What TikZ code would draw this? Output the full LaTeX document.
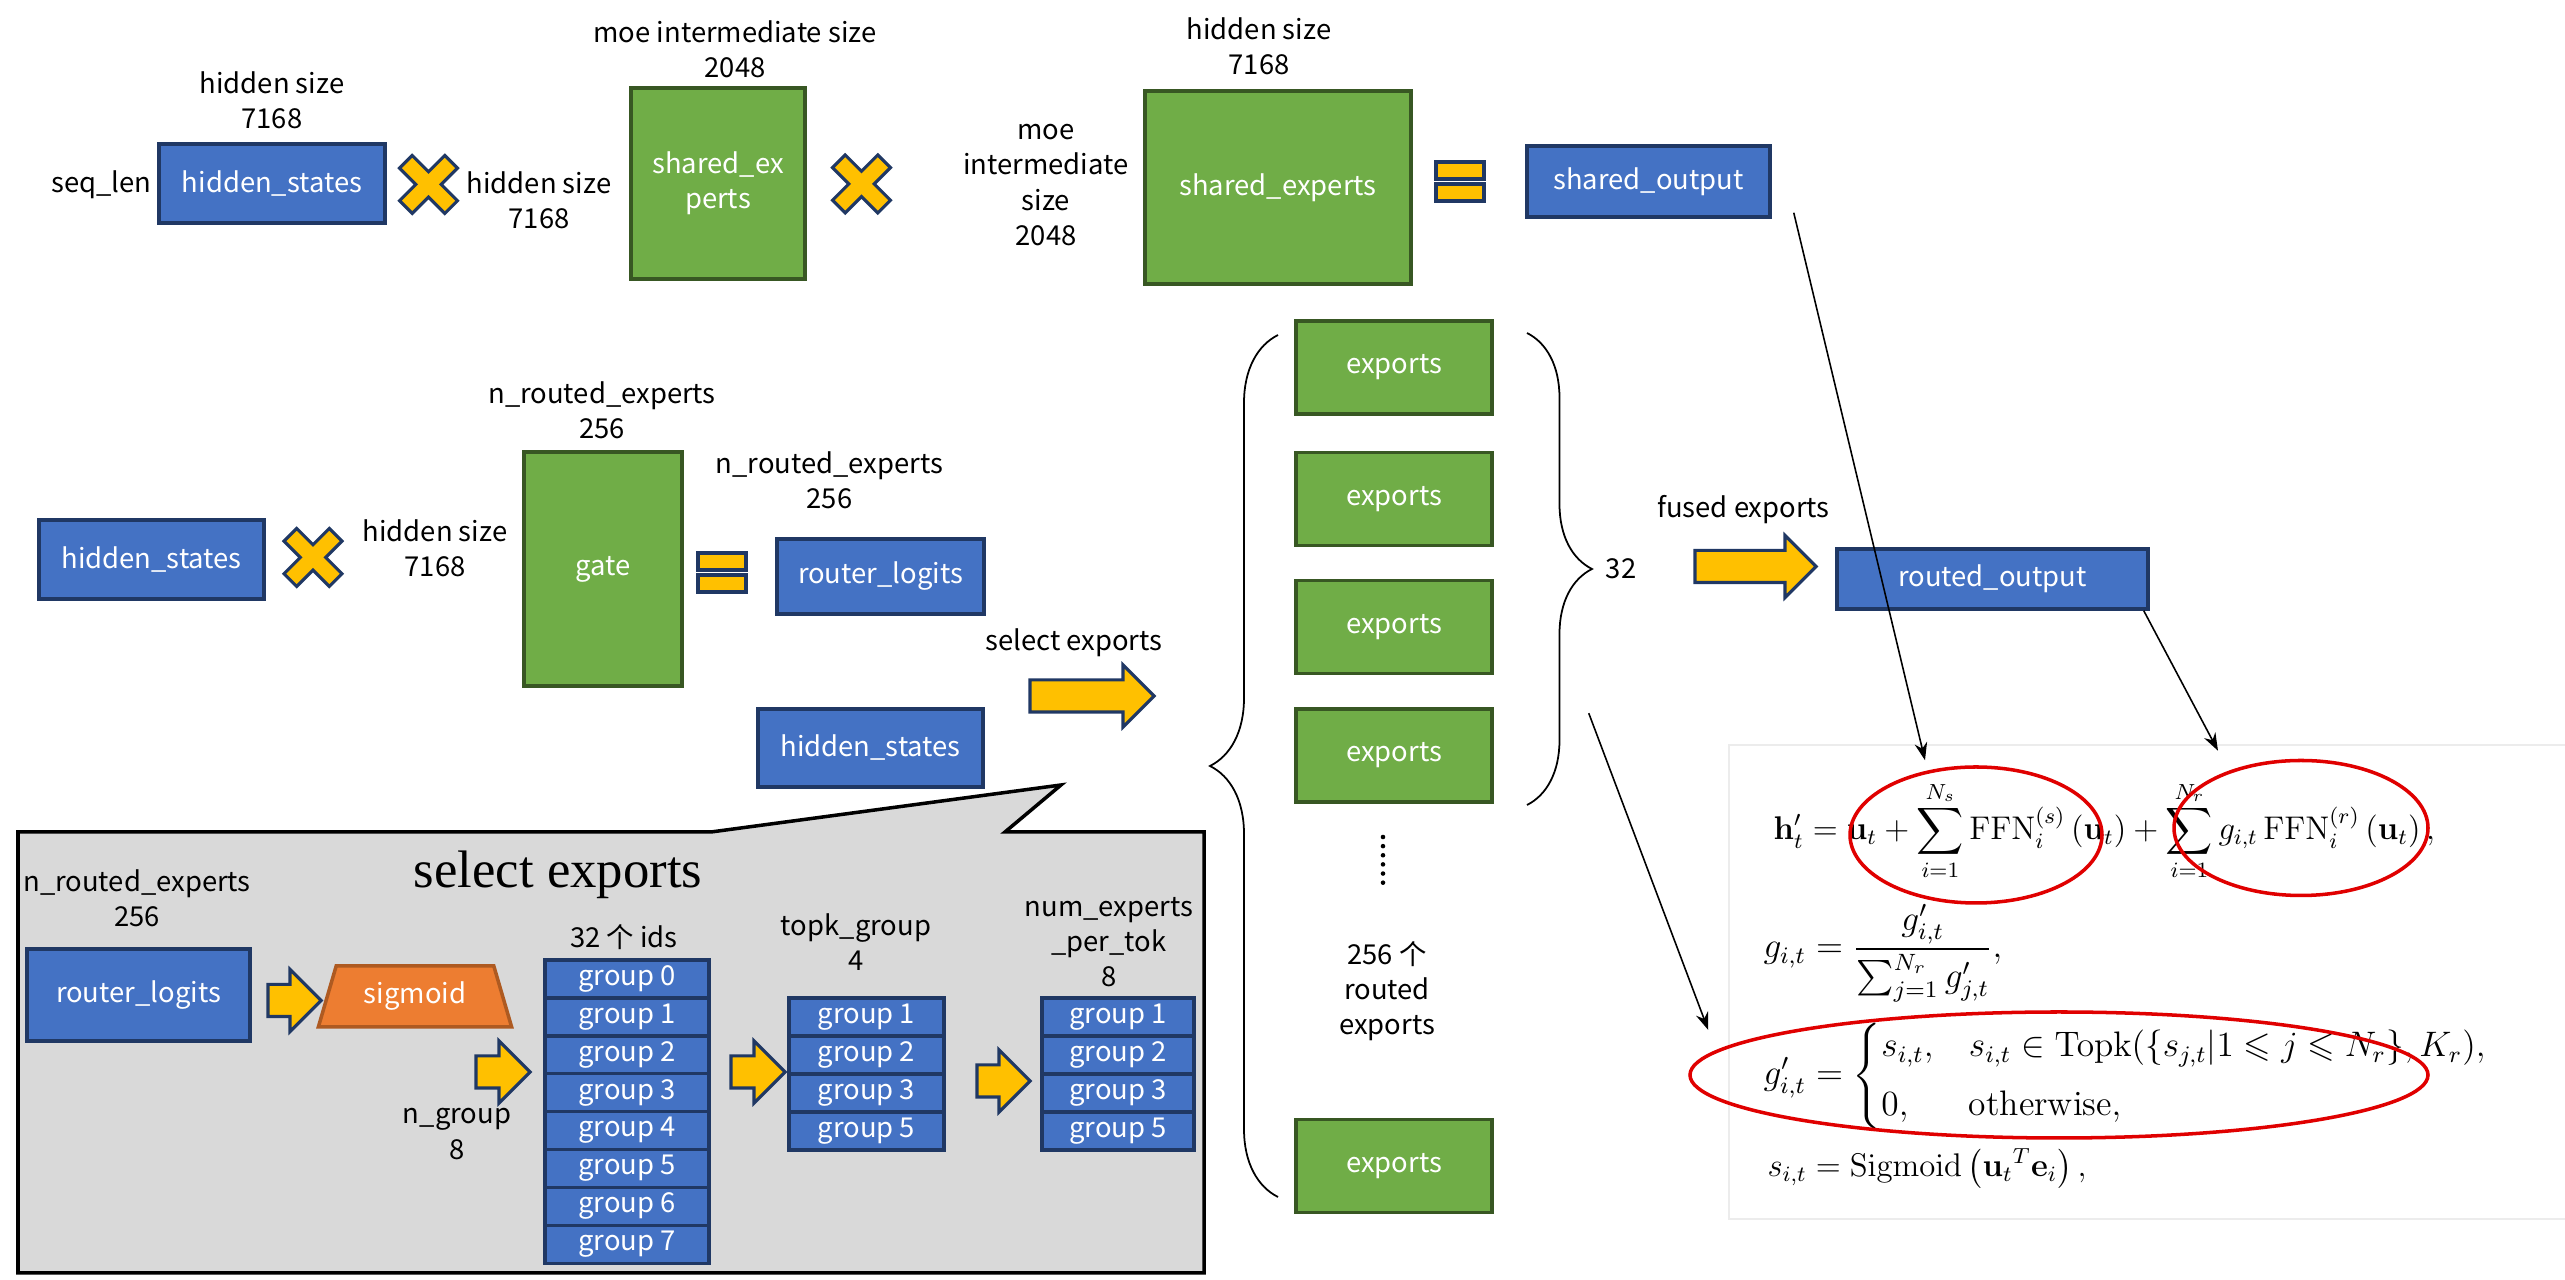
\documentclass[tikz,border=0pt]{standalone}
\usepackage{amsmath,amssymb}
\usepackage[no-math]{fontspec}
\setsansfont{Noto Sans CJK SC}
\newfontfamily\titlefont{Liberation Serif}
\usetikzlibrary{positioning, arrows.meta, shapes.geometric, shapes.arrows, decorations.pathreplacing}

\definecolor{boxblue}{HTML}{4472C4}
\definecolor{boxnavy}{HTML}{203864}
\definecolor{boxgreen}{HTML}{70AD47}
\definecolor{darkgreen}{HTML}{385723}
\definecolor{gold}{HTML}{FFC000}
\definecolor{sigorange}{HTML}{ED7D31}
\definecolor{sigborder}{HTML}{AE5A21}
\definecolor{calloutgray}{HTML}{D9D9D9}
\definecolor{markred}{HTML}{E00000}

% yellow multiply sign and equals sign
\newcommand{\timesmark}[1]{%
  \draw[symb, shift={#1}, rotate=45] (0.09,0.32) -- (0.09,0.09) -- (0.32,0.09) -- (0.32,-0.09) -- (0.09,-0.09) -- (0.09,-0.32)
    -- (-0.09,-0.32) -- (-0.09,-0.09) -- (-0.32,-0.09) -- (-0.32,0.09) -- (-0.09,0.09) -- (-0.09,0.32) -- cycle;}
\newcommand{\equalmark}[2]{%
  \draw[symb] (#1,#2) rectangle ++(0.48,-0.17) ++(-0.48,-0.05) rectangle ++(0.48,-0.17);}

\begin{document}
\begin{tikzpicture}[
    every node/.style={font=\sffamily\fontsize{7.8}{10}\selectfont},
    bluebox/.style={draw=boxnavy, fill=boxblue, line width=1pt, text=white, inner sep=0pt, align=center},
    greenbox/.style={draw=darkgreen, fill=boxgreen, line width=1pt, text=white, inner sep=0pt, align=center},
    cell/.style={bluebox, minimum height=0.38cm},
    lbl/.style={align=center, inner sep=0pt},
    symb/.style={draw=boxnavy, fill=gold, line width=0.9pt},
    yarrow/.style={single arrow, draw=boxnavy, fill=gold, line width=0.9pt, inner xsep=0pt, inner ysep=0.145cm,
                   single arrow head extend=0.15cm, single arrow tip angle=90, minimum width=0pt},
    hilite/.style={ellipse, draw=markred, line width=1pt, inner sep=0pt},
    ptr/.style={-{Stealth[length=5pt,width=3.6pt]}, line width=0.45pt},
    cbrace/.style={decorate, decoration={brace, amplitude=#1}, line width=0.5pt},
    eqn/.style={font=\large, scale=#1, transform shape, inner sep=0pt, anchor=base west},
    eqn/.default=0.777
]
\useasboundingbox (0,0) rectangle (25.65,-12.80);

% shared experts row
\node[lbl, anchor=east] (seqlen) at (1.52,-1.85) {seq\_len};
\node[bluebox, minimum width=2.26cm, minimum height=0.79cm] (hs1) at (2.72,-1.835) {hidden\_states};
\node[lbl] (hsize1) at (2.72,-1.00) {hidden size\\7168};
\timesmark{(4.285,-1.845)}
\node[lbl] (hsize2) at (5.39,-2.00) {hidden size\\7168};
\node[greenbox, minimum width=1.74cm, minimum height=1.91cm] (shex) at (7.18,-1.835) {shared\_ex\\perts};
\node[lbl] (moe1) at (7.35,-0.495) {moe intermediate size\\2048};
\timesmark{(8.615,-1.84)}
\node[lbl] (moe2) at (10.46,-1.85) {moe\\intermediate\\size\\2048};
\node[greenbox, minimum width=2.66cm, minimum height=1.93cm] (shexp) at (12.78,-1.875) {shared\_experts};
\node[lbl] (hsize3) at (12.59,-0.465) {hidden size\\7168};
\equalmark{14.36}{-1.62}
\node[bluebox, minimum width=2.43cm, minimum height=0.71cm] (so) at (16.485,-1.815) {shared\_output};

% gate row
\node[bluebox, minimum width=2.25cm, minimum height=0.79cm] (hs2) at (1.515,-5.595) {hidden\_states};
\timesmark{(3.13,-5.575)}
\node[lbl] (hsize4) at (4.35,-5.48) {hidden size\\7168};
\node[greenbox, minimum width=1.58cm, minimum height=2.34cm] (gate) at (6.03,-5.69) {gate};
\node[lbl] (nre1) at (6.02,-4.10) {n\_routed\_experts\\256};
\equalmark{6.98}{-5.53}
\node[lbl] (nre2) at (8.295,-4.80) {n\_routed\_experts\\256};
\node[bluebox, minimum width=2.07cm, minimum height=0.75cm] (rl) at (8.805,-5.765) {router\_logits};
\node[bluebox, minimum width=2.25cm, minimum height=0.78cm] (hs3) at (8.705,-7.48) {hidden\_states};
\node[lbl] (sellbl) at (10.74,-6.43) {select exports};
\node[yarrow, minimum height=1.24cm] (selarr) at (10.84,-6.96) {};

% select exports callout
\draw[line width=1pt, fill=calloutgray] (0.18,-8.32) -- (7.11,-8.32) -- (10.61,-7.85) -- (10.05,-8.32)
  -- (12.04,-8.32) -- (12.04,-12.73) -- (0.18,-12.73) -- cycle;
\node[font=\titlefont\fontsize{15}{18}\selectfont] (title) at (5.58,-8.75) {select exports};
\node[lbl] (nre3) at (1.37,-8.98) {n\_routed\_experts\\256};
\node[bluebox, minimum width=2.23cm, minimum height=0.92cm] (rl2) at (1.385,-9.95) {router\_logits};
\node[yarrow, minimum height=0.53cm] (a1) at (2.865,-10.005) {};
\node[trapezium, trapezium left angle=68, trapezium right angle=68, trapezium stretches=true,
      draw=sigborder, fill=sigorange, line width=1pt, text=white, inner sep=0pt,
      minimum width=1.94cm, minimum height=0.61cm] (sig) at (4.15,-9.965) {sigmoid};
\node[lbl] (ids) at (6.24,-9.37) {32 个 ids};
\foreach \i in {0,...,7}
  \node[cell, minimum width=1.64cm] (g\i) at (6.27,-9.79-0.379*\i) {group \i};
\node[yarrow, minimum height=0.54cm] (a2) at (4.95,-10.72) {};
\node[lbl] (ngroup) at (4.57,-11.34) {n\_group\\8};
\node[yarrow, minimum height=0.54cm] (a3) at (7.50,-10.72) {};
\node[lbl] (topk) at (8.56,-9.42) {topk\_group\\4};
\foreach \n [count=\k from 0] in {1,2,3,5}
  \node[cell, minimum width=1.55cm] (t\n) at (8.665,-10.17-0.38*\k) {group \n};
\node[yarrow, minimum height=0.53cm] (a4) at (9.955,-10.81) {};
\node[lbl] (nept) at (11.09,-9.42) {num\_experts\\\_per\_tok\\8};
\foreach \n [count=\k from 0] in {1,2,3,5}
  \node[cell, minimum width=1.52cm] (k\n) at (11.18,-10.17-0.38*\k) {group \n};

% routed experts
\foreach \n/\y in {1/-3.675, 2/-4.99, 3/-6.27, 4/-7.555, 5/-11.66}
  \node[greenbox, minimum width=1.96cm, minimum height=0.93cm] (ex\n) at (13.94,\y) {exports};
\draw[line width=1.3pt, line cap=round, dash pattern=on 0pt off 2.6pt] (13.83,-8.37) -- (13.83,-8.84);
\node[lbl] (n256) at (13.87,-9.91) {256 个\\routed\\exports};
\draw[cbrace=0.68cm] (12.78,-11.97) -- (12.78,-3.35);
\draw[cbrace=0.65cm] (15.27,-3.33) -- (15.27,-8.05);
\node (n32) at (16.21,-5.69) {32};
\node[lbl] (fusedlbl) at (17.435,-5.10) {fused exports};
\node[yarrow, minimum height=1.21cm] (fusedarr) at (17.475,-5.665) {};
\node[bluebox, minimum width=3.11cm, minimum height=0.60cm] (ro) at (19.925,-5.79) {routed\_output};

% formulas
\draw[gray!15, fill=white] (17.29,-7.45) rectangle (25.70,-12.19);
\node[eqn] (f1) at (17.73,-8.40) {$\displaystyle \mathbf{h}'_t = \mathbf{u}_t + \sum_{i=1}^{N_s} \mathrm{FFN}^{(s)}_i\left(\mathbf{u}_t\right) + \sum_{i=1}^{N_r} g_{i,t}\, \mathrm{FFN}^{(r)}_i\left(\mathbf{u}_t\right),$};
\node[eqn=0.84] (f2) at (17.63,-9.58) {$\displaystyle g_{i,t} = \frac{g'_{i,t}}{\sum_{j=1}^{N_r} g'_{j,t}},$};
\node[eqn=0.84] (f3) at (17.63,-10.85) {$\displaystyle g'_{i,t} = \begin{cases} s_{i,t}, & s_{i,t} \in \mathrm{Topk}(\{s_{j,t} | 1 \leqslant j \leqslant N_r\}, K_r), \\[3pt] 0, & \text{otherwise}, \end{cases}$};
\node[eqn] (f4) at (17.67,-11.77) {$\displaystyle s_{i,t} = \mathrm{Sigmoid}\left(\mathbf{u}_t{}^T \mathbf{e}_i\right),$};
\node[hilite, minimum width=2.52cm, minimum height=1.36cm] (e1) at (19.76,-8.35) {};
\node[hilite, minimum width=2.54cm, minimum height=1.35cm] (e2) at (23.01,-8.28) {};
\node[hilite, minimum width=7.38cm, minimum height=1.26cm] (e3) at (20.59,-10.75) {};

\draw[ptr] ([shift={(0.22,0.06)}]so.south east) -- ([shift={(-0.51,0.05)}]e1.north);
\draw[ptr] ([xshift=-0.06cm]ro.south east) -- ([shift={(-0.83,0.08)}]e2.north);
\draw[ptr] ([shift={(0.95,-0.06)}]ex4.north east) -- ([shift={(0.20,0.45)}]e3.west);
\end{tikzpicture}
\end{document}
